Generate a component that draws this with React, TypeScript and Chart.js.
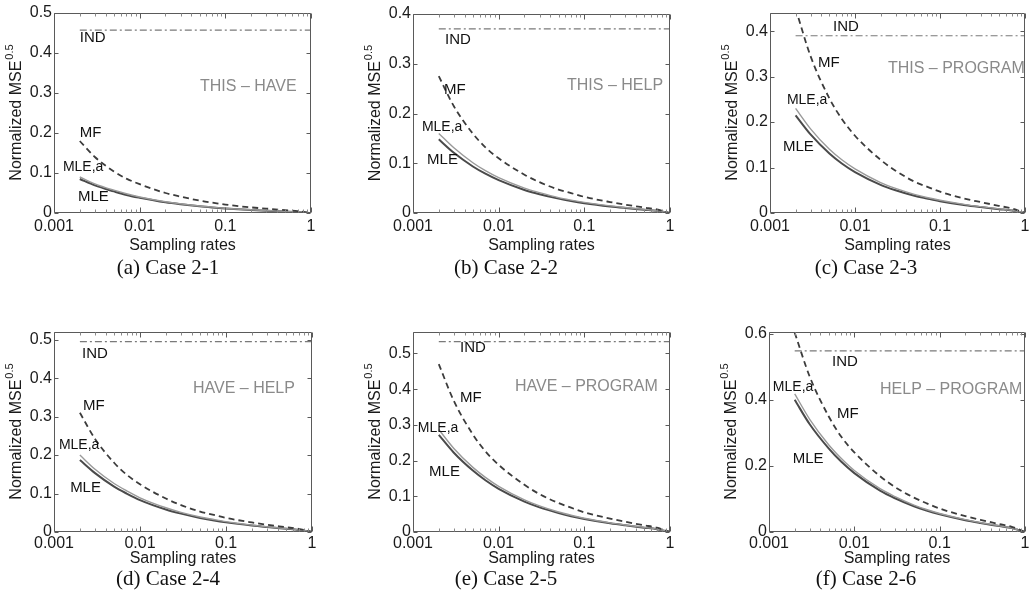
import React, { useEffect, useRef } from "react";
import { Chart, registerables } from "chart.js";

Chart.register(...registerables);

// ---------- data ----------
const samplingRates = [0.002, 0.003, 0.005, 0.007, 0.01, 0.02, 0.03, 0.05, 0.07, 0.1, 0.2, 0.3, 0.5, 0.7, 1];
const xTickValues = [0.001, 0.01, 0.1, 1];
const xTickLabels = ["0.001", "0.01", "0.1", "1"];

const mfCase1 = [0.18, 0.14, 0.104, 0.086, 0.072, 0.05, 0.041, 0.031, 0.026, 0.021, 0.014, 0.011, 0.0072, 0.0047, 0];
const mleaCase1 = [0.09, 0.073, 0.057, 0.048, 0.04, 0.028, 0.023, 0.0176, 0.0147, 0.012, 0.008, 0.0062, 0.004, 0.0026, 0];
const mleCase1 = [0.085, 0.069, 0.054, 0.045, 0.038, 0.0266, 0.0217, 0.0166, 0.0139, 0.0114, 0.0076, 0.0058, 0.0038, 0.0025, 0];

const mfCase2 = [0.275, 0.2145, 0.1595, 0.132, 0.11, 0.077, 0.062, 0.047, 0.04, 0.0325, 0.022, 0.0168, 0.011, 0.0072, 0];
const mleaCase2 = [0.16, 0.131, 0.101, 0.085, 0.071, 0.05, 0.041, 0.031, 0.026, 0.0214, 0.0143, 0.011, 0.0072, 0.0047, 0];
const mleCase2 = [0.148, 0.121, 0.0935, 0.079, 0.066, 0.0463, 0.0377, 0.0289, 0.0241, 0.0198, 0.0132, 0.0101, 0.0066, 0.0043, 0];

const mfCase3 = [0.45, 0.345, 0.252, 0.207, 0.17, 0.117, 0.093, 0.069, 0.058, 0.047, 0.031, 0.024, 0.0155, 0.01, 0];
const mleaCase3 = [0.23, 0.185, 0.14, 0.117, 0.097, 0.067, 0.054, 0.041, 0.034, 0.028, 0.0185, 0.014, 0.009, 0.006, 0];
const mleCase3 = [0.215, 0.173, 0.131, 0.109, 0.09, 0.062, 0.05, 0.038, 0.032, 0.026, 0.017, 0.013, 0.0085, 0.0055, 0];

const mfCase4 = [0.31, 0.242, 0.18, 0.149, 0.124, 0.087, 0.07, 0.053, 0.045, 0.0366, 0.0248, 0.019, 0.0124, 0.008, 0];
const mleaCase4 = [0.2, 0.163, 0.126, 0.107, 0.089, 0.063, 0.051, 0.039, 0.033, 0.027, 0.018, 0.0137, 0.009, 0.0059, 0];
const mleCase4 = [0.187, 0.153, 0.118, 0.1, 0.083, 0.0585, 0.0477, 0.0365, 0.0305, 0.025, 0.0167, 0.0128, 0.0084, 0.0055, 0];

const mfCase5 = [0.47, 0.367, 0.273, 0.226, 0.188, 0.132, 0.106, 0.081, 0.068, 0.055, 0.0376, 0.0287, 0.0188, 0.0122, 0];
const mleaCase5 = [0.287, 0.234, 0.181, 0.153, 0.128, 0.09, 0.073, 0.056, 0.047, 0.0385, 0.0257, 0.0197, 0.0129, 0.0084, 0];
const mleCase5 = [0.272, 0.222, 0.172, 0.145, 0.121, 0.085, 0.069, 0.053, 0.044, 0.0364, 0.0243, 0.0186, 0.0122, 0.008, 0];

const mfCase6 = [0.603, 0.47, 0.35, 0.289, 0.241, 0.169, 0.136, 0.104, 0.087, 0.071, 0.048, 0.037, 0.024, 0.0157, 0];
const mleaCase6 = [0.418, 0.341, 0.264, 0.223, 0.186, 0.131, 0.107, 0.0815, 0.068, 0.056, 0.0374, 0.0286, 0.0187, 0.0122, 0];
const mleCase6 = [0.4, 0.326, 0.253, 0.213, 0.178, 0.125, 0.102, 0.078, 0.065, 0.0536, 0.0358, 0.0274, 0.0179, 0.0117, 0];

const indLevels = [0.457, 0.37, 0.39, 0.495, 0.533, 0.548];
const yMaxes = [0.5, 0.4, 0.44, 0.52, 0.56, 0.605];
const yTickSets = [
  [0, 0.1, 0.2, 0.3, 0.4, 0.5],
  [0, 0.1, 0.2, 0.3, 0.4],
  [0, 0.1, 0.2, 0.3, 0.4],
  [0, 0.1, 0.2, 0.3, 0.4, 0.5],
  [0, 0.1, 0.2, 0.3, 0.4, 0.5],
  [0, 0.2, 0.4, 0.6],
];
const pairNames = ["THIS – HAVE", "THIS – HELP", "THIS – PROGRAM", "HAVE – HELP", "HAVE – PROGRAM", "HELP – PROGRAM"];
const captions = ["(a) Case 2-1", "(b) Case 2-2", "(c) Case 2-3", "(d) Case 2-4", "(e) Case 2-5", "(f) Case 2-6"];
const seriesNames = ["IND", "MF", "MLE,a", "MLE"];

// annotation anchors in data coordinates [sampling rate, value]: IND, MF, MLE,a, MLE, pair name
const labelAnchors = [
  [[0.002, 0.437], [0.002, 0.2], [0.00127, 0.115], [0.0019, 0.04], [0.0506, 0.315]],
  [[0.00237, 0.348], [0.0023, 0.247], [0.00127, 0.173], [0.00146, 0.107], [0.0628, 0.257]],
  [[0.00551, 0.409], [0.00367, 0.33], [0.00158, 0.248], [0.00142, 0.145], [0.0244, 0.318]],
  [[0.00212, 0.464], [0.00218, 0.329], [0.00114, 0.225], [0.00154, 0.114], [0.0413, 0.373]],
  [[0.00354, 0.515], [0.00354, 0.376], [0.00114, 0.29], [0.00154, 0.168], [0.0155, 0.406]],
  [[0.00547, 0.516], [0.00627, 0.356], [0.00111, 0.438], [0.0019, 0.22], [0.02, 0.432]],
];

const caseSeries = [
  [mfCase1, mleaCase1, mleCase1],
  [mfCase2, mleaCase2, mleCase2],
  [mfCase3, mleaCase3, mleCase3],
  [mfCase4, mleaCase4, mleCase4],
  [mfCase5, mleaCase5, mleCase5],
  [mfCase6, mleaCase6, mleCase6],
];

// ---------- layout ----------
const panelFrames = [
  { left: 0, top: 0, width: 326, height: 255, areaLeft: 54, areaTop: 13, xAxisH: 42, tickPad: 4, padRight: 15 },
  { left: 345, top: 0, width: 340, height: 255, areaLeft: 413, areaTop: 14, xAxisH: 42, tickPad: 4, padRight: 15 },
  { left: 690, top: 0, width: 345, height: 255, areaLeft: 770, areaTop: 13, xAxisH: 42, tickPad: 4, padRight: 10 },
  { left: 0, top: 300, width: 327, height: 268, areaLeft: 54, areaTop: 332, xAxisH: 36, tickPad: 2, padRight: 15 },
  { left: 345, top: 300, width: 340, height: 268, areaLeft: 413, areaTop: 332, xAxisH: 36, tickPad: 2, padRight: 15 },
  { left: 690, top: 300, width: 345, height: 268, areaLeft: 769, areaTop: 332, xAxisH: 36, tickPad: 2, padRight: 10 },
];
const captionFrames = [
  { cx: 168, cy: 267 },
  { cx: 506, cy: 267 },
  { cx: 866, cy: 267 },
  { cx: 168, cy: 578 },
  { cx: 506, cy: 578 },
  { cx: 866, cy: 578 },
];

const SANS = '"Liberation Sans", Arial, Helvetica, sans-serif';

const decorPlugin = {
  id: "decor",
  afterDatasetsDraw(chart: any, _args: any, opts: any) {
    const { ctx, chartArea: a } = chart;
    const xs = chart.scales.x;
    const ys = chart.scales.y;
    ctx.save();
    const L = Math.round(a.left) + 0.5;
    const R = Math.round(a.right) - 0.5;
    const T = Math.round(a.top) + 0.5;
    const B = Math.round(a.bottom) - 0.5;
    ctx.strokeStyle = "#5a5a5a";
    ctx.lineWidth = 1;
    ctx.setLineDash([]);
    ctx.beginPath();
    ctx.rect(L, T, R - L, B - T);
    ctx.stroke();
    ctx.beginPath();
    for (const v of opts.yTicks) {
      const p = Math.round(ys.getPixelForValue(v)) + 0.5;
      ctx.moveTo(L, p);
      ctx.lineTo(L + 4, p);
      ctx.moveTo(R, p);
      ctx.lineTo(R - 4, p);
    }
    for (const v of xTickValues) {
      const p = Math.round(xs.getPixelForValue(v)) + 0.5;
      ctx.moveTo(p, B);
      ctx.lineTo(p, B - 5);
      ctx.moveTo(p, T);
      ctx.lineTo(p, T + 5);
    }
    ctx.stroke();
    ctx.strokeStyle = "#8a8a8a";
    ctx.beginPath();
    for (let d = 0.001; d < 0.9; d *= 10) {
      for (let m = 2; m <= 9; m++) {
        const p = Math.round(xs.getPixelForValue(d * m)) + 0.5;
        ctx.moveTo(p, B);
        ctx.lineTo(p, B - 3);
        ctx.moveTo(p, T);
        ctx.lineTo(p, T + 3);
      }
    }
    ctx.stroke();

    ctx.textAlign = "left";
    ctx.textBaseline = "middle";
    for (const lb of opts.labels) {
      ctx.font = `${lb.size}px ${SANS}`;
      ctx.fillStyle = lb.color;
      ctx.fillText(lb.text, xs.getPixelForValue(lb.x), ys.getPixelForValue(lb.y));
    }

    // y-axis title with superscript
    ctx.translate(a.left - 37, (a.top + a.bottom) / 2);
    ctx.rotate(-Math.PI / 2);
    const main = "Normalized MSE";
    const sup = "0.5";
    ctx.font = `16px ${SANS}`;
    const w1 = ctx.measureText(main).width;
    ctx.font = `11px ${SANS}`;
    const w2 = ctx.measureText(sup).width;
    const start = -(w1 + w2) / 2;
    ctx.fillStyle = "#1a1a1a";
    ctx.font = `16px ${SANS}`;
    ctx.fillText(main, start, 0);
    ctx.font = `11px ${SANS}`;
    ctx.fillText(sup, start + w1 + 1, -7);
    ctx.restore();
  },
};

function buildConfig(i: number): any {
  const frame = panelFrames[i];
  const [mf, mlea, mle] = caseSeries[i];
  const toPts = (arr: number[]) => arr.map((v, k) => ({ x: samplingRates[k], y: v }));
  const indPts = [
    { x: samplingRates[0], y: indLevels[i] },
    { x: samplingRates[samplingRates.length - 1], y: indLevels[i] },
  ];
  const anchors = labelAnchors[i];
  const labels = [
    { text: seriesNames[0], x: anchors[0][0], y: anchors[0][1], size: 15, color: "#111" },
    { text: seriesNames[1], x: anchors[1][0], y: anchors[1][1], size: 15, color: "#111" },
    { text: seriesNames[2], x: anchors[2][0], y: anchors[2][1], size: 14, color: "#111" },
    { text: seriesNames[3], x: anchors[3][0], y: anchors[3][1], size: 15, color: "#111" },
    { text: pairNames[i], x: anchors[4][0], y: anchors[4][1], size: 16, color: "#8a8a8a" },
  ];
  const yTicks = yTickSets[i];
  return {
    type: "line",
    data: {
      datasets: [
        { label: seriesNames[0], data: indPts, borderColor: "#7a7a7a", borderWidth: 1.2, borderDash: [7, 3, 2, 3], pointRadius: 0, fill: false },
        { label: seriesNames[1], data: toPts(mf), borderColor: "#3c3c3c", borderWidth: 1.8, borderDash: [6, 4], pointRadius: 0, fill: false, cubicInterpolationMode: "monotone" },
        { label: seriesNames[2], data: toPts(mlea), borderColor: "#9a9a9a", borderWidth: 1.4, pointRadius: 0, fill: false, cubicInterpolationMode: "monotone" },
        { label: seriesNames[3], data: toPts(mle), borderColor: "#4a4a4a", borderWidth: 2, pointRadius: 0, fill: false, cubicInterpolationMode: "monotone" },
      ],
    },
    options: {
      animation: false,
      responsive: false,
      devicePixelRatio: 1,
      layout: { padding: { left: 0, top: frame.areaTop - frame.top, right: frame.padRight, bottom: 0 } },
      plugins: {
        legend: { display: false },
        tooltip: { enabled: false },
        decor: { yTicks, labels },
      },
      scales: {
        x: {
          type: "logarithmic",
          min: 0.001,
          max: 1,
          afterBuildTicks: (s: any) => {
            s.ticks = xTickValues.map((v) => ({ value: v }));
          },
          afterFit: (s: any) => {
            s.height = frame.xAxisH;
          },
          grid: { display: false, drawTicks: false },
          border: { display: false },
          ticks: {
            autoSkip: false,
            maxRotation: 0,
            minRotation: 0,
            padding: frame.tickPad,
            color: "#1a1a1a",
            font: { family: SANS, size: 16 },
            callback: (v: any) => {
              const idx = xTickValues.findIndex((t) => Math.abs(t - Number(v)) / t < 1e-6);
              return idx >= 0 ? xTickLabels[idx] : "";
            },
          },
          title: { display: true, text: "Sampling rates", color: "#1a1a1a", font: { family: SANS, size: 16 }, padding: { top: 0, bottom: 0 } },
        },
        y: {
          type: "linear",
          min: 0,
          max: yMaxes[i],
          afterBuildTicks: (s: any) => {
            s.ticks = yTicks.map((v) => ({ value: v }));
          },
          afterFit: (s: any) => {
            s.width = frame.areaLeft - frame.left;
          },
          grid: { display: false, drawTicks: false },
          border: { display: false },
          ticks: {
            padding: 2,
            color: "#1a1a1a",
            font: { family: SANS, size: 16 },
            callback: (v: any) => String(v),
          },
        },
      },
    },
    plugins: [decorPlugin],
  };
}

function Panel({ index }: { index: number }) {
  const ref = useRef<HTMLCanvasElement>(null);
  const frame = panelFrames[index];
  useEffect(() => {
    if (!ref.current) return;
    const chart = new Chart(ref.current, buildConfig(index));
    return () => chart.destroy();
  }, [index]);
  return (
    <canvas
      ref={ref}
      width={frame.width}
      height={frame.height}
      style={{ position: "absolute", left: frame.left, top: frame.top, width: frame.width, height: frame.height }}
    />
  );
}

export default function App() {
  return (
    <div style={{ position: "fixed", left: 0, top: 0, width: 1035, height: 606, background: "#fff", overflow: "hidden" }}>
      {panelFrames.map((_, i) => (
        <Panel key={i} index={i} />
      ))}
      {captions.map((c, i) => (
        <div
          key={"c" + i}
          style={{
            position: "absolute",
            left: captionFrames[i].cx - 100,
            top: captionFrames[i].cy - 13,
            width: 200,
            height: 26,
            lineHeight: "26px",
            textAlign: "center",
            fontFamily: '"Liberation Serif", "Times New Roman", serif',
            fontSize: 21,
            color: "#111",
          }}
        >
          {c}
        </div>
      ))}
    </div>
  );
}
